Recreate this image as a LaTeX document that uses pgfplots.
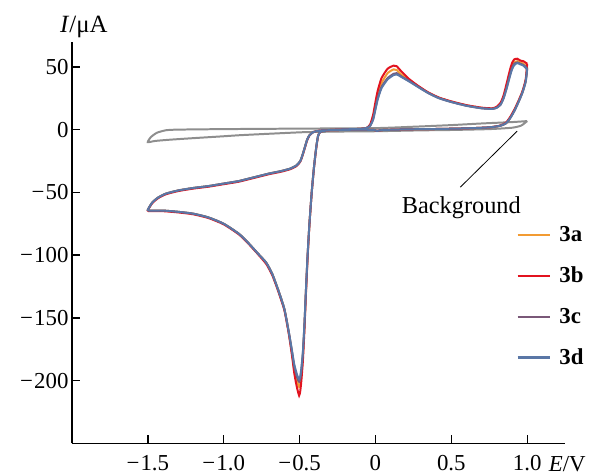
\documentclass[border=0pt]{standalone}
\usepackage{fontspec}
\setmainfont{Liberation Serif}
\usepackage{pgfplots}
\usepackage{pgfplotstable}
\pgfplotsset{compat=1.18}
\definecolor{cA}{HTML}{F29B33}
\definecolor{cB}{HTML}{E2131F}
\definecolor{cC}{HTML}{7A5878}
\definecolor{cD}{HTML}{5A77A6}
\definecolor{cBG}{HTML}{8E8E8E}
\newcommand{\mn}{−\kern1.2pt}

\pgfplotstableread{
x a b c d
1.00 50 52.5 49 48
0.99 39 40 38.5 38
0.97 30.5 31 30 30
0.95 24.5 25 24 24
0.92 16.5 17 16 16
0.89 10 10.5 9.5 9.5
0.86 5 5.5 5 5
0.82 3 3.2 3 3
0.75 1.8 1.8 1.8 1.8
0.60 1.0 1.0 1.0 1.0
0.40 0.5 0.5 0.5 0.5
0.20 0.2 0.2 0.2 0.2
0.05 -0.3 -0.3 -0.3 -0.3
0.01 -1.0 -1.0 -1.0 -1.0
-0.01 -0.3 -0.3 -0.3 -0.3
-0.10 0 0 0 0
-0.20 -0.2 -0.2 -0.2 -0.2
-0.30 -0.5 -0.5 -0.5 -0.5
-0.37 -0.8 -0.8 -0.8 -0.8
-0.41 -2 -2 -2 -2
-0.435 -4.5 -4.8 -4.5 -4.5
-0.45 -8 -8.5 -8 -8
-0.465 -14 -14.5 -14 -14
-0.48 -20 -20.5 -20 -20
-0.495 -25 -25.5 -25 -25
-0.52 -28.5 -29 -28.5 -28.5
-0.56 -31 -31.5 -31 -31
-0.62 -33 -33.5 -33 -33
-0.70 -35 -35.5 -35 -35
-0.80 -38 -38.5 -38 -38
-0.90 -41 -41.5 -41 -41
-1.00 -43 -43.5 -43 -43
-1.10 -45 -45.5 -45 -45
-1.20 -46.5 -47 -46.5 -46.5
-1.30 -48.5 -49 -48.5 -48.5
-1.38 -51 -51.5 -51 -51
-1.43 -54 -54.5 -54 -54
-1.47 -58 -58.5 -58 -58
-1.50 -64 -64.5 -64 -64
-1.48 -64.5 -65 -64.5 -64.5
-1.40 -64.5 -65 -64.5 -64.5
-1.30 -65.5 -66 -65.5 -65.5
-1.20 -67 -67.5 -67 -67
-1.10 -70 -70.5 -70 -70
-1.00 -75 -75.5 -75 -75
-0.90 -83 -83.5 -83 -83
-0.84 -90 -90.5 -90 -90
-0.78 -98 -98.5 -98 -98
-0.72 -106 -107 -106 -106
-0.68 -115 -116 -115 -115
-0.64 -128 -129 -128 -128
-0.60 -143 -144 -143 -143
-0.57 -162.5 -163.5 -162 -162
-0.55 -178 -180 -177 -176
-0.535 -191 -194 -189 -187
-0.52 -199 -204 -196 -194
-0.51 -203 -209 -199.5 -197.5
-0.503 -205 -212 -201 -199
-0.496 -203 -209 -199 -197
-0.488 -195 -200 -192 -190
-0.478 -180 -184 -178 -177
-0.468 -157 -160 -156 -155
-0.458 -129 -131 -128 -128
-0.447 -101 -102 -100 -100
-0.435 -75.5 -76 -75 -75
-0.42 -50 -50.5 -50 -50
-0.405 -30 -30.5 -30 -30
-0.39 -14 -14.5 -14 -14
-0.378 -5 -5.2 -5 -5
-0.365 -2 -2 -2 -2
-0.34 -1 -1 -1 -1
-0.30 -0.3 -0.3 -0.3 -0.3
-0.20 0.2 0.2 0.2 0.2
-0.10 0.6 0.6 0.6 0.6
-0.06 1.2 1.3 1.2 1.2
-0.035 3.5 4 3 3
-0.015 10 12 8.5 8
0.00 19 22 17 16
0.015 28 31 25 24
0.04 37 41 34 33
0.08 45 48.5 41 40
0.12 48 51 44.5 43.5
0.14 47.5 50.5 45 44
0.17 44 46.5 42.5 42
0.22 39.5 40.5 39 38.5
0.28 34.5 35 34.3 34
0.35 29.3 29.5 29 29
0.42 25.3 25.5 25 25
0.50 22.3 22.5 22 22
0.60 19.3 19.5 19 19
0.70 17.3 17.5 17 17
0.77 16.8 17 16.5 16.5
0.80 17.8 18.3 17.5 17.5
0.825 20.5 21.5 20 20
0.845 26 27.5 25.5 25
0.865 35 37 33.5 33
0.885 44.5 47 43 42
0.90 50.5 53 49 48
0.915 53.5 56 52.5 51.5
0.935 54.5 56.5 53.5 53
0.955 53.5 55 52.5 52
0.975 52.5 54.5 51.5 51
1.00 50 52.5 49 48
}\cvdata

\pgfplotstableread{
x y
1.00 6.8
0.90 6.0
0.70 4.9
0.50 3.6
0.25 2.3
0.00 1.2
-0.50 0.8
-1.00 0.4
-1.30 0.0
-1.38 -0.5
-1.44 -2.5
-1.48 -6
-1.50 -10
-1.45 -9
-1.35 -8
-1.20 -6.8
-1.00 -5.3
-0.90 -4.5
-0.70 -3.3
-0.46 -2.0
-0.20 -1.5
0.00 -1.3
0.30 -0.6
0.50 -0.3
0.75 0.4
0.90 1.5
0.96 3.2
1.00 6.8
}\bgdata

\begin{document}
\begin{tikzpicture}
\begin{axis}[
  scale only axis,
  width=495bp, height=403bp,
  xmin=-2, xmax=1.25, ymin=-250, ymax=70,
  axis lines=left,
  axis line style={-, line width=1.4pt, black},
  tick align=inside,
  major tick length=8bp,
  tick style={line width=1.4pt, black},
  xtick={-1.5,-1,-0.5,0,0.5,1},
  xticklabels={\mn1.5,\mn1.0,\mn0.5,0,0.5,1.0},
  ytick={-200,-150,-100,-50,0,50},
  yticklabels={\mn200,\mn150,\mn100,\mn50,0,50},
  ticklabel style={font=\fontsize{23}{26}\selectfont},
  xticklabel style={yshift=-9bp},
  clip=false,
  legend style={at={(axis cs:0.908,-74)}, anchor=north west, draw=none, fill=none,
    font=\fontsize{23}{26}\selectfont\bfseries, row sep=20bp,
    /tikz/every odd column/.append style={column sep=6bp}},
  legend cell align=left,
  legend image code/.code={\draw[#1, line width=2.2pt] (0bp,0bp) -- (33bp,0bp);},
  every axis plot/.append style={smooth, tension=0.35, line width=2pt},
]
\addplot[cBG, forget plot] table[x=x, y=y] {\bgdata};
\addplot[cA] table[x=x, y=a] {\cvdata};
\addplot[cB] table[x=x, y=b] {\cvdata};
\addplot[cC] table[x=x, y=c] {\cvdata};
\addplot[cD] table[x=x, y=d] {\cvdata};
\legend{3a,3b,3c,3d}
\draw[line width=0.8pt] (axis cs:0.559,-45.9) -- (axis cs:0.934,-1.2);
\node[font=\fontsize{24.5}{28}\selectfont] at (axis cs:0.566,-62.6) {Background};
\node[anchor=base, font=\fontsize{25}{28}\selectfont] at (axis cs:-1.921,77.7) {\textit{I}/μA};
\node[anchor=base west, font=\fontsize{23}{26}\selectfont] at (axis cs:1.12,-272.3) {\textit{E}/V};
\path (axis cs:-2.474,103.3) rectangle (axis cs:1.395,-274.7);
\end{axis}
\end{tikzpicture}
\end{document}
